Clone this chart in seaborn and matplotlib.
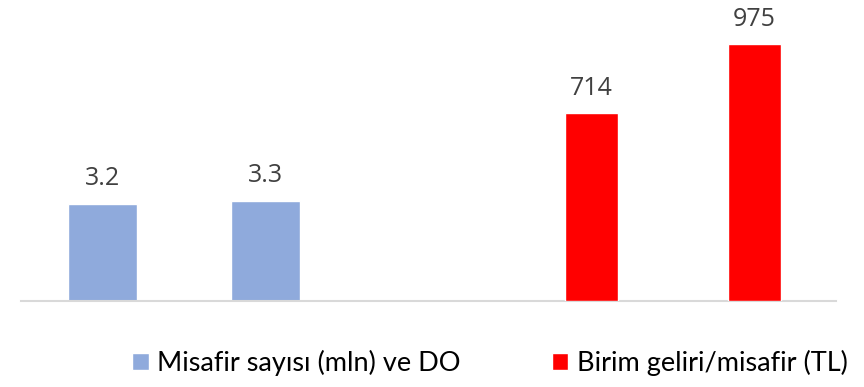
import matplotlib
matplotlib.use("Agg")
import matplotlib.pyplot as plt
from matplotlib.patches import Patch
import seaborn as sns
import pandas as pd

# Category slots along the x axis (the middle slot stays empty)
slots = ["Misafir 1", "Misafir 2", "ara", "Gelir 1", "Gelir 2"]

guest_cats = ["Misafir 1", "Misafir 2"]
guest_vals = [3.2, 3.3]
guest_label = "Misafir sayısı (mln) ve DO"

rev_cats = ["Gelir 1", "Gelir 2"]
rev_vals = [714, 975]
rev_label = "Birim geliri/misafir (TL)"

blue = "#8FAADC"
red = "#FF0000"

sns.set_theme(style="white")
plt.rcParams["font.family"] = ["Open Sans", "DejaVu Sans"]

fig = plt.figure(figsize=(8.64, 3.87), dpi=100)
ax = fig.add_axes([21 / 864, 86.3 / 387, 815 / 864, 290.7 / 387])
ax2 = ax.twinx()

guest_df = pd.DataFrame({"cat": guest_cats, "val": guest_vals})
rev_df = pd.DataFrame({"cat": rev_cats, "val": rev_vals})

sns.barplot(data=guest_df, x="cat", y="val", order=slots, ax=ax,
            color=blue, saturation=1, width=0.423)
sns.barplot(data=rev_df, x="cat", y="val", order=slots, ax=ax2,
            color=red, saturation=1, width=0.32)

ax.set_ylim(0, 9.594)
ax2.set_ylim(0, 1106)
ax.set_xlim(-0.5, 4.5)

lab_kw = dict(fontsize=18, color="#404040", padding=9, family="Open Sans")
for c in ax.containers:
    ax.bar_label(c, fmt="%.1f", **lab_kw)
for c in ax2.containers:
    ax2.bar_label(c, fmt="%d", **lab_kw)

for a in (ax, ax2):
    for s in ("top", "left", "right"):
        a.spines[s].set_visible(False)
    a.set_xlabel("")
    a.set_ylabel("")
    a.set_yticks([])
    a.set_xticks([])
ax2.spines["bottom"].set_visible(False)
ax.spines["bottom"].set_color("#D9D9D9")
ax.spines["bottom"].set_linewidth(1.5)

handles = [Patch(facecolor=blue, label=guest_label),
           Patch(facecolor=red, label=rev_label)]
fig.legend(handles=handles, loc="center", bbox_to_anchor=(0.567, 0.062),
           ncol=2, frameon=False, handlelength=0.6, handleheight=0.6,
           handletextpad=0.3, columnspacing=3.4, labelcolor="black",
           prop={"family": "Lato", "size": 19.5})

fig.savefig("out.png", dpi=100)
